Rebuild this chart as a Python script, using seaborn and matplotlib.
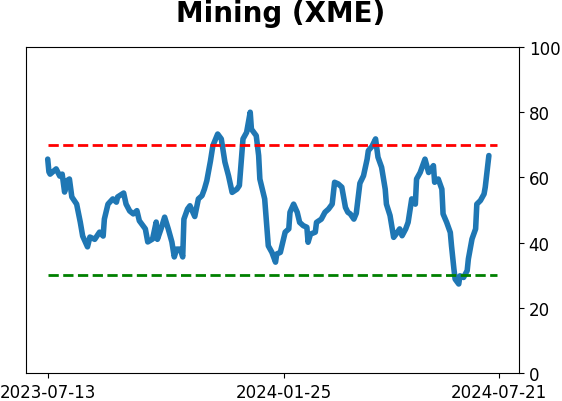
import matplotlib.pyplot as plt
import matplotlib.dates as mdates
import pandas as pd
import seaborn as sns

dates = [
    "2023-07-13", "2023-07-14", "2023-07-15", "2023-07-20", "2023-07-23", "2023-07-25",
    "2023-07-27", "2023-07-29", "2023-07-31", "2023-08-02", "2023-08-06", "2023-08-09",
    "2023-08-11", "2023-08-15", "2023-08-17", "2023-08-21", "2023-08-25", "2023-08-28",
    "2023-08-29", "2023-09-01", "2023-09-05", "2023-09-08", "2023-09-09", "2023-09-14",
    "2023-09-16", "2023-09-19", "2023-09-22", "2023-09-25", "2023-09-27", "2023-10-02",
    "2023-10-04", "2023-10-08", "2023-10-11", "2023-10-12", "2023-10-15", "2023-10-18",
    "2023-10-21", "2023-10-24", "2023-10-26", "2023-10-28", "2023-10-31", "2023-11-02",
    "2023-11-03", "2023-11-06", "2023-11-08", "2023-11-12", "2023-11-15", "2023-11-18",
    "2023-11-20", "2023-11-22", "2023-11-25", "2023-11-27", "2023-12-01", "2023-12-04",
    "2023-12-07", "2023-12-10", "2023-12-13", "2023-12-17", "2023-12-19", "2023-12-22",
    "2023-12-25", "2023-12-28", "2023-12-29", "2024-01-02", "2024-01-04", "2024-01-05",
    "2024-01-09", "2024-01-12", "2024-01-15", "2024-01-18", "2024-01-19", "2024-01-22",
    "2024-01-26", "2024-01-29", "2024-01-30", "2024-02-02", "2024-02-05", "2024-02-07",
    "2024-02-10", "2024-02-13", "2024-02-14", "2024-02-16", "2024-02-20", "2024-02-21",
    "2024-02-25", "2024-02-28", "2024-03-02", "2024-03-05", "2024-03-07", "2024-03-10",
    "2024-03-13", "2024-03-16", "2024-03-18", "2024-03-20", "2024-03-23", "2024-03-25",
    "2024-03-28", "2024-03-31", "2024-04-03", "2024-04-04", "2024-04-07", "2024-04-10",
    "2024-04-12", "2024-04-15", "2024-04-18", "2024-04-19", "2024-04-22", "2024-04-25",
    "2024-04-28", "2024-04-30", "2024-05-02", "2024-05-05", "2024-05-07", "2024-05-10",
    "2024-05-13", "2024-05-14", "2024-05-17", "2024-05-21", "2024-05-24", "2024-05-27",
    "2024-05-28", "2024-05-29", "2024-06-01", "2024-06-04", "2024-06-05", "2024-06-08",
    "2024-06-11", "2024-06-12", "2024-06-14", "2024-06-15", "2024-06-18", "2024-06-19",
    "2024-06-22", "2024-06-25", "2024-06-26", "2024-06-29", "2024-07-02", "2024-07-03",
    "2024-07-06", "2024-07-09", "2024-07-10", "2024-07-13",
]

values = [
    65.6, 61.7, 61.0, 62.6, 60.4, 61.0,
    55.5, 59.0, 59.5, 54.0, 51.8, 46.3,
    42.0, 38.7, 41.7, 41.0, 43.2, 42.0,
    47.2, 51.8, 53.4, 52.4, 54.0, 55.2,
    51.8, 49.7, 48.8, 49.8, 46.7, 44.2,
    40.2, 41.1, 46.3, 41.0, 44.2, 47.8,
    44.2, 40.2, 35.6, 38.0, 38.0, 35.6,
    47.2, 50.3, 51.3, 48.0, 53.4, 54.4,
    56.4, 59.0, 65.0, 69.7, 73.3, 71.8,
    64.7, 60.5, 55.4, 56.4, 57.5, 71.8,
    73.8, 80.0, 74.8, 72.8, 66.7, 59.5,
    53.4, 39.0, 37.0, 34.0, 36.5, 37.0,
    43.2, 44.2, 49.3, 51.8, 49.3, 46.2,
    45.2, 44.7, 40.1, 42.6, 43.2, 46.2,
    47.2, 49.3, 50.3, 51.8, 58.5, 58.0,
    57.0, 50.8, 49.3, 48.8, 47.2, 49.0,
    58.2, 60.5, 65.6, 68.2, 69.5, 71.8,
    66.2, 63.1, 56.4, 51.8, 48.3, 41.6,
    43.1, 44.2, 42.1, 44.2, 46.2, 53.4,
    51.8, 59.5, 61.5, 65.6, 61.5, 63.1,
    63.6, 58.5, 59.5, 56.4, 48.8, 46.2,
    43.1, 39.0, 31.9, 28.8, 27.3, 29.8,
    29.3, 31.4, 35.0, 41.1, 44.2, 51.8,
    52.9, 54.9, 57.0, 66.7,
]

tick_dates = ["2023-07-13", "2024-01-25", "2024-07-21"]
upper_level = 70
lower_level = 30

df = pd.DataFrame({"date": pd.to_datetime(dates), "value": values})

sns.set_style("ticks", {
    "text.color": "black",
    "xtick.color": "black",
    "ytick.color": "black",
    "axes.edgecolor": "black",
})

fig = plt.figure(figsize=(5.62, 4.02), dpi=100)
ax = fig.add_axes([0.0463, 0.0697, 0.8772, 0.8109])

sns.lineplot(data=df, x="date", y="value", ax=ax, color="#1f77b4", linewidth=4)

# threshold lines
ax.axhline(upper_level, color="red", linestyle="--", linewidth=2,
           xmin=0.045, xmax=0.955)
ax.axhline(lower_level, color="green", linestyle="--", linewidth=2,
           xmin=0.045, xmax=0.955)

ax.set_ylim(0, 100)
ax.set_xlim(pd.Timestamp("2023-06-25"), pd.Timestamp("2024-08-07"))
ax.yaxis.tick_right()
ax.set_yticks([0, 20, 40, 60, 80, 100])
ax.set_xticks(pd.to_datetime(tick_dates))
ax.xaxis.set_major_formatter(mdates.DateFormatter("%Y-%m-%d"))
ax.tick_params(labelsize=12, colors="black")
ax.set_xlabel("")
ax.set_ylabel("")

for s in ax.spines.values():
    s.set_visible(True)
    s.set_color("black")

fig.suptitle("Mining (XME)", fontsize=20, fontweight="bold", color="black", y=1.0)

fig.savefig("out.png", dpi=100)
